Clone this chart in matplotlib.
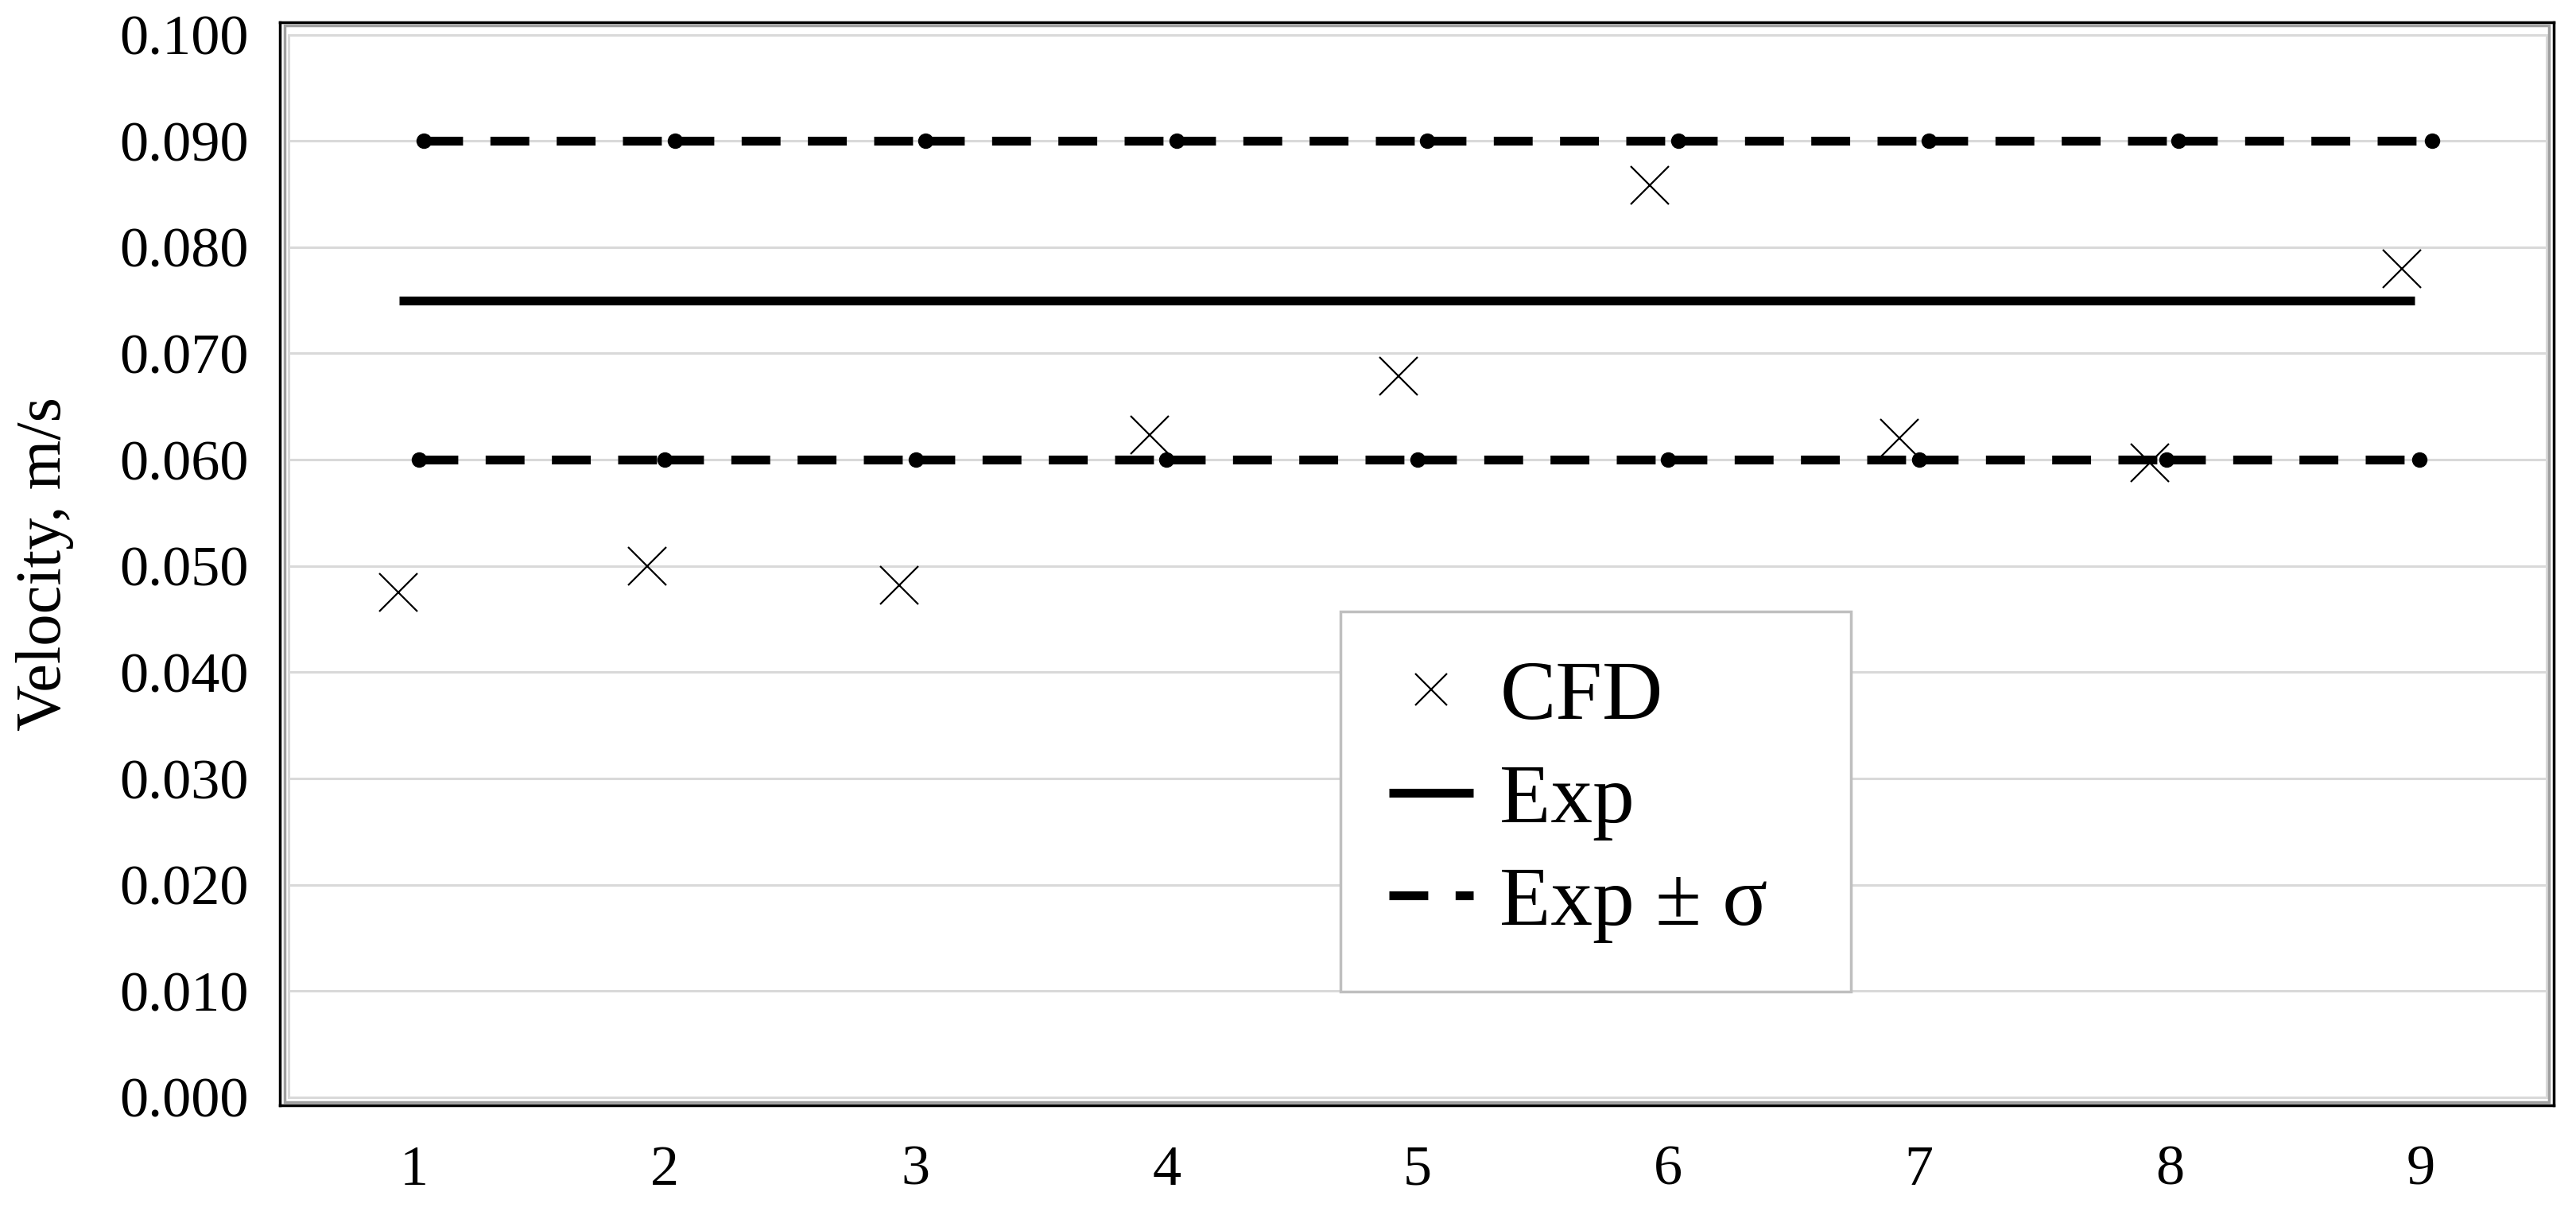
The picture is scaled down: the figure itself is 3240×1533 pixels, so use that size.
import matplotlib
matplotlib.use("Agg")
import matplotlib.pyplot as plt
from matplotlib.lines import Line2D
from matplotlib.patches import Rectangle

plt.rcParams['font.family'] = ['Liberation Serif', 'DejaVu Serif']

# data
cases = [1, 2, 3, 4, 5, 6, 7, 8, 9]
cfd_x = [0.936, 1.929, 2.933, 3.933, 4.925, 5.926, 6.920, 7.920, 8.925]
cfd_v = [0.0475, 0.0500, 0.0482, 0.0623, 0.0679, 0.0858, 0.0620, 0.0597, 0.0780]
exp_x = [0.94, 1.94, 2.94, 3.94, 4.94, 5.95, 6.95, 7.96, 8.975]
exp_v = [0.075, 0.075, 0.075, 0.075, 0.075, 0.075, 0.075, 0.075, 0.075]
upper_x = [1.04, 2.04, 3.04, 4.04, 5.04, 6.04, 7.04, 8.035, 9.045]
upper_v = [0.090, 0.090, 0.090, 0.090, 0.090, 0.090, 0.090, 0.090, 0.090]
lower_x = [1.02, 2.00, 3.00, 4.00, 5.00, 6.00, 7.00, 7.985, 8.995]
lower_v = [0.060, 0.060, 0.060, 0.060, 0.060, 0.060, 0.060, 0.060, 0.060]
y_ticks = [0.0, 0.01, 0.02, 0.03, 0.04, 0.05, 0.06, 0.07, 0.08, 0.09, 0.1]

W, H = 3240, 1533
fig = plt.figure(figsize=(W / 100, H / 100), dpi=100)
ax = fig.add_axes([352 / W, 1 - 1390 / H, (3212 - 352) / W, 1362 / H])

ax.set_xlim(0.4651, 9.530)
ax.set_ylim(-0.00075, 0.10116)

# plot-area grid and light border (excel style)
ax.hlines(y_ticks, 0.5, 9.5, color='#d9d9d9', lw=2.2, zorder=1)
ax.add_patch(Rectangle((0.5, 0.0), 9.0, 0.1, fill=False, ec='#d9d9d9', lw=2.2, zorder=1))
ax.add_patch(Rectangle((0.002, 0.003), 0.996, 0.994, transform=ax.transAxes,
                       fill=False, ec='#a0a0a0', lw=2.5, zorder=1))

dash = (0, (4.4, 3.1))

# Exp line
ax.plot(exp_x, exp_v, color='black', lw=8, solid_capstyle='butt', zorder=3)

# Exp +/- sigma, dash pattern restarts at every point like excel does
for xs, vs in [(upper_x, upper_v), (lower_x, lower_v)]:
    for i in range(len(xs) - 1):
        ax.plot(xs[i:i + 2], vs[i:i + 2], color='black', lw=8, ls=dash,
                dash_capstyle='butt', zorder=3)
    ax.plot(xs, vs, ls='none', marker='o', ms=13, color='black', zorder=3)

# CFD points
ax.plot(cfd_x, cfd_v, ls='none', marker='x', ms=35, mew=1.6, color='black', zorder=4)

ax.set_xticks(cases)
ax.set_xticklabels([str(c) for c in cases])
ax.set_yticks(y_ticks)
ax.set_yticklabels([f"{v:.3f}" for v in y_ticks])
ax.tick_params(axis='both', length=0, labelsize=52, colors='black')
ax.tick_params(axis='x', pad=36)
ax.tick_params(axis='y', pad=28)

for sp in ax.spines.values():
    sp.set_color('black')
    sp.set_linewidth(2.5)

ax.set_ylabel('Velocity, m/s', fontsize=58)
ax.yaxis.set_label_coords(-0.0906, 0.5)

handles = [
    Line2D([], [], ls='none', marker='x', ms=35 * 0.82, mew=1.6, color='black'),
    Line2D([], [], color='black', lw=8, solid_capstyle='butt'),
    Line2D([], [], color='black', lw=8, ls=dash, dash_capstyle='butt'),
]
# legend box stretched to the width seen in the reference
leg = ax.legend(handles, ['CFD', 'Exp', 'Exp ± σ'], loc='upper left',
                bbox_to_anchor=(0.4664, 0.456, 0.2245, 0.0), mode='expand',
                borderaxespad=0, fontsize=76,
                handlelength=1.0, handletextpad=0.32, labelspacing=0.31,
                borderpad=0.58, frameon=True, fancybox=False,
                edgecolor='#bfbfbf', framealpha=1)
leg.get_frame().set_linewidth(2.5)
leg.set_zorder(5)

fig.savefig('out.png', dpi=100)
